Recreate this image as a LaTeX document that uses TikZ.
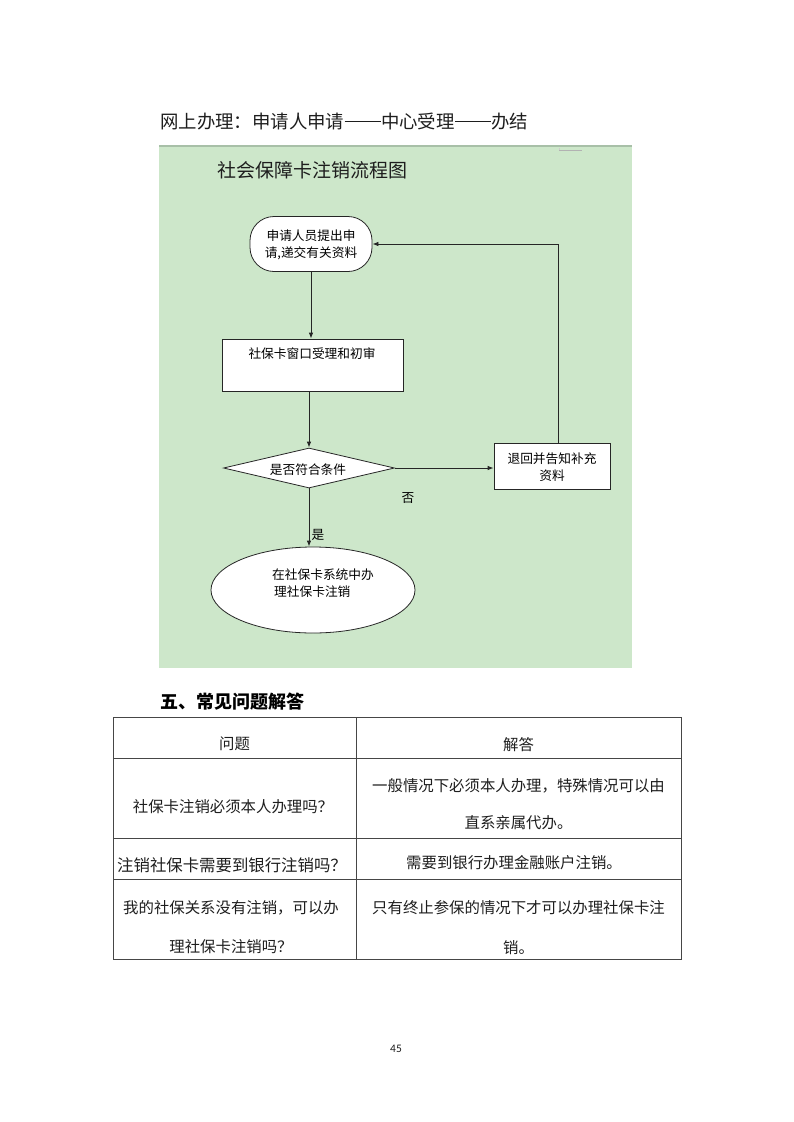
\documentclass[tikz,border=0pt]{standalone}
\usepackage{fontspec}
\setmainfont{Noto Sans CJK SC}
\newfontfamily\numfont{Carlito}
\usetikzlibrary{shapes.geometric,arrows.meta,calc}
\definecolor{bggreen}{RGB}{205,231,202}
\definecolor{bgedge}{RGB}{168,192,168}
\definecolor{tline}{RGB}{70,70,70}
\definecolor{txt}{RGB}{30,30,30}
\newcommand\dblrule{\makebox[2em]{\rule[0.36em]{1.95em}{0.06em}}}
\tikzset{
  flow/.style={draw=black!85, line width=0.8pt, fill=white, inner sep=0pt},
  arr/.style={-{Latex[length=6pt,width=4.5pt]}, line width=0.8pt, draw=black!85},
  ftxt/.style={font=\fontsize{12.7}{17}\selectfont, text=black, inner sep=0pt},
  ttxt/.style={font=\fontsize{15.4}{18}\selectfont, text=txt, inner sep=0pt},
  tbl/.style={draw=tline, line width=1pt}
}
\begin{document}
\begin{tikzpicture}[x=1pt,y=-1pt]
\useasboundingbox (0,0) rectangle (793,1122);
\fill[white] (0,0) rectangle (793,1122);
% top heading
\node[font=\fontsize{18.4}{20}\selectfont, text=txt, anchor=west, inner sep=0pt] (head) at (160,122) {网上办理：申请人申请\dblrule 中心受理\dblrule 办结};
% green panel
\fill[bggreen] (159,145) rectangle (632,668);
\draw[bgedge, line width=2pt] (159,146) -- (632,146);
\draw[gray!60, line width=0.6pt] (559,150) -- (582,150);
\draw[gray!40, line width=0.5pt] (559,148) -- (559,150);
\node[font=\fontsize{19}{21}\selectfont, text=txt, anchor=west, inner sep=0pt] (title) at (217,170) {社会保障卡注销流程图};
% flow nodes
\node[flow, rounded corners=24pt, minimum width=122pt, minimum height=55pt] (start) at (311,244) {};
\node[ftxt, align=center] (startt) at (311,245) {申请人员提出申\\请,递交有关资料};
\node[flow, minimum width=181pt, minimum height=52pt] (r1) at (312.5,365) {};
\node[ftxt] (r1t) at (312,354) {社保卡窗口受理和初审};
\node[flow, diamond, aspect=4.3, minimum width=171pt, minimum height=40pt] (dia) at (309,468) {};
\node[ftxt] (diat) at (308,470) {是否符合条件};
\node[flow, minimum width=116pt, minimum height=46pt] (r2) at (552,466) {};
\node[ftxt, align=center] (r2t) at (552,467) {退回并告知补充\\资料};
\node[flow, ellipse, minimum width=204pt, minimum height=86pt] (ell) at (313,590) {};
\node[ftxt, align=left, anchor=west] (ellt) at (272,583) {在社保卡系统中办\\\hspace{2pt}理社保卡注销};
% connectors
\draw[arr] (start.south) -- (start.south |- r1.north);
\draw[arr] (r1.south -| dia.north) -- (dia.north);
\draw[arr] (dia.east) -- (dia.east -| r2.west);
\draw[arr] ([xshift=6pt]r2.north) |- (start.east);
\draw[arr] (dia.south) -- (dia.south |- ell.north);
\node[ftxt] (no) at (408,498) {否};
\node[ftxt] (yes) at (318,535) {是};
% section heading
\node[font=\fontsize{18}{20}\selectfont\bfseries, text=black, anchor=west, inner sep=0pt] (sec) at (160,702) {五、常见问题解答};
% table
\draw[tbl] (113,717) rectangle (681,959);
\draw[tbl] (356,717) -- (356,959);
\draw[tbl] (113,758) -- (681,758);
\draw[tbl] (113,838) -- (681,838);
\draw[tbl] (113,879) -- (681,879);
\node[ttxt] (h1) at (234.5,744) {问题};
\node[ttxt] (h2) at (518.5,745) {解答};
\node[ttxt] (q1) at (233,807) {社保卡注销必须本人办理吗？};
\node[ttxt] (a1a) at (518.5,786) {一般情况下必须本人办理，特殊情况可以由};
\node[ttxt] (a1b) at (518.5,823) {直系亲属代办。};
\node[ttxt, font=\fontsize{16.4}{18}\selectfont] (q2) at (232,865) {注销社保卡需要到银行注销吗？};
\node[ttxt] (a2) at (514,863) {需要到银行办理金融账户注销。};
\node[ttxt] (q3a) at (231,908) {我的社保关系没有注销，可以办};
\node[ttxt] (q3b) at (231,947) {理社保卡注销吗？};
\node[ttxt] (a3a) at (518.5,908) {只有终止参保的情况下才可以办理社保卡注};
\node[ttxt] (a3b) at (518.5,948) {销。};
% page number
\node[font=\numfont\fontsize{11.5}{13}\selectfont, text=txt, inner sep=0pt] (pg) at (396,1049) {45};
\end{tikzpicture}
\end{document}
